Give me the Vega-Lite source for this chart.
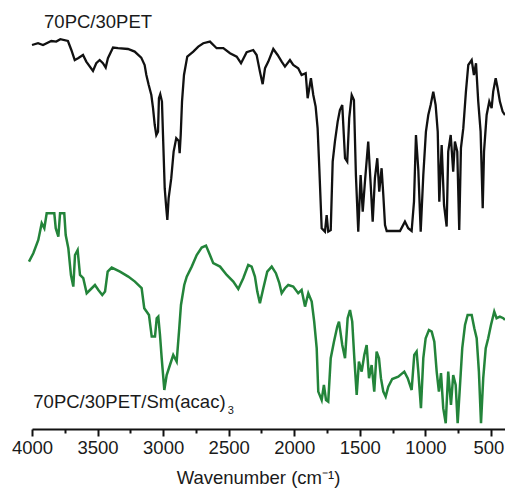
{
  "$schema": "https://vega.github.io/schema/vega-lite/v6.json",
  "width": 473,
  "height": 429,
  "autosize": {"type": "none"},
  "padding": {"left": 32, "top": 0, "right": 0, "bottom": 59},
  "background": "white",
  "config": {
    "view": {"stroke": null},
    "font": "Liberation Sans",
    "text": {"font": "Liberation Sans", "color": "#1a1a1a"}
  },
  "datasets": {
    "pet": [
      {"wavenumber": 4000, "transmittance": 93.5}, {"wavenumber": 3954, "transmittance": 94.4},
      {"wavenumber": 3916, "transmittance": 93.5}, {"wavenumber": 3853, "transmittance": 95.5},
      {"wavenumber": 3815, "transmittance": 95.2}, {"wavenumber": 3784, "transmittance": 96.4},
      {"wavenumber": 3726, "transmittance": 95.5}, {"wavenumber": 3700, "transmittance": 91},
      {"wavenumber": 3674, "transmittance": 86}, {"wavenumber": 3649, "transmittance": 86.9},
      {"wavenumber": 3611, "transmittance": 88.5}, {"wavenumber": 3586, "transmittance": 85.2},
      {"wavenumber": 3535, "transmittance": 80.5}, {"wavenumber": 3510, "transmittance": 84.4},
      {"wavenumber": 3484, "transmittance": 86}, {"wavenumber": 3459, "transmittance": 84.4},
      {"wavenumber": 3438, "transmittance": 82.2}, {"wavenumber": 3421, "transmittance": 86.9},
      {"wavenumber": 3382, "transmittance": 92.2}, {"wavenumber": 3344, "transmittance": 91.9},
      {"wavenumber": 3268, "transmittance": 91.5}, {"wavenumber": 3217, "transmittance": 90.2},
      {"wavenumber": 3167, "transmittance": 87.2}, {"wavenumber": 3141, "transmittance": 83.5},
      {"wavenumber": 3128, "transmittance": 78.5}, {"wavenumber": 3110, "transmittance": 73.5},
      {"wavenumber": 3090, "transmittance": 68.5}, {"wavenumber": 3077, "transmittance": 61.9},
      {"wavenumber": 3064, "transmittance": 53.5}, {"wavenumber": 3052, "transmittance": 48.5},
      {"wavenumber": 3039, "transmittance": 50.2}, {"wavenumber": 3032, "transmittance": 66.9},
      {"wavenumber": 3022, "transmittance": 68.9}, {"wavenumber": 3009, "transmittance": 65.2},
      {"wavenumber": 3001, "transmittance": 48.5}, {"wavenumber": 2988, "transmittance": 21.9},
      {"wavenumber": 2976, "transmittance": 11.9}, {"wavenumber": 2968, "transmittance": 6},
      {"wavenumber": 2958, "transmittance": 16.9}, {"wavenumber": 2938, "transmittance": 26.9},
      {"wavenumber": 2920, "transmittance": 40.2}, {"wavenumber": 2900, "transmittance": 46.9},
      {"wavenumber": 2881, "transmittance": 45.5}, {"wavenumber": 2874, "transmittance": 39.4},
      {"wavenumber": 2866, "transmittance": 48.5}, {"wavenumber": 2856, "transmittance": 65.2},
      {"wavenumber": 2841, "transmittance": 78.5}, {"wavenumber": 2816, "transmittance": 87.7},
      {"wavenumber": 2770, "transmittance": 90.2}, {"wavenumber": 2732, "transmittance": 92.7},
      {"wavenumber": 2694, "transmittance": 94.4}, {"wavenumber": 2643, "transmittance": 95.2},
      {"wavenumber": 2592, "transmittance": 91.9}, {"wavenumber": 2541, "transmittance": 91.9},
      {"wavenumber": 2490, "transmittance": 89.4}, {"wavenumber": 2439, "transmittance": 87.7},
      {"wavenumber": 2406, "transmittance": 84.4}, {"wavenumber": 2363, "transmittance": 89.9},
      {"wavenumber": 2313, "transmittance": 91}, {"wavenumber": 2287, "transmittance": 88.5},
      {"wavenumber": 2262, "transmittance": 80.2}, {"wavenumber": 2241, "transmittance": 73.9},
      {"wavenumber": 2223, "transmittance": 81.9}, {"wavenumber": 2198, "transmittance": 85.2},
      {"wavenumber": 2160, "transmittance": 91.5}, {"wavenumber": 2127, "transmittance": 88.5},
      {"wavenumber": 2096, "transmittance": 85.2}, {"wavenumber": 2071, "transmittance": 82.7},
      {"wavenumber": 2033, "transmittance": 86}, {"wavenumber": 2008, "transmittance": 83.5},
      {"wavenumber": 1970, "transmittance": 81.9}, {"wavenumber": 1944, "transmittance": 78.5},
      {"wavenumber": 1913, "transmittance": 79.4}, {"wavenumber": 1898, "transmittance": 66.9},
      {"wavenumber": 1873, "transmittance": 76.9}, {"wavenumber": 1855, "transmittance": 68.5},
      {"wavenumber": 1837, "transmittance": 62.7}, {"wavenumber": 1822, "transmittance": 51.9},
      {"wavenumber": 1809, "transmittance": 31.9}, {"wavenumber": 1791, "transmittance": 1.9},
      {"wavenumber": 1766, "transmittance": 0.2}, {"wavenumber": 1753, "transmittance": 8.5},
      {"wavenumber": 1741, "transmittance": 0.2}, {"wavenumber": 1722, "transmittance": 1},
      {"wavenumber": 1707, "transmittance": 35.2}, {"wavenumber": 1690, "transmittance": 45.2},
      {"wavenumber": 1669, "transmittance": 55.2}, {"wavenumber": 1652, "transmittance": 61},
      {"wavenumber": 1634, "transmittance": 63.5}, {"wavenumber": 1613, "transmittance": 36.9},
      {"wavenumber": 1596, "transmittance": 35.2}, {"wavenumber": 1581, "transmittance": 56.9},
      {"wavenumber": 1562, "transmittance": 68.5}, {"wavenumber": 1545, "transmittance": 66},
      {"wavenumber": 1530, "transmittance": 28.5}, {"wavenumber": 1512, "transmittance": 0.2},
      {"wavenumber": 1494, "transmittance": 28.5}, {"wavenumber": 1478, "transmittance": 10.2},
      {"wavenumber": 1461, "transmittance": 25.2}, {"wavenumber": 1436, "transmittance": 45.2},
      {"wavenumber": 1417, "transmittance": 23.5}, {"wavenumber": 1402, "transmittance": 5.2},
      {"wavenumber": 1385, "transmittance": 26.9}, {"wavenumber": 1367, "transmittance": 36.9},
      {"wavenumber": 1352, "transmittance": 20.2}, {"wavenumber": 1334, "transmittance": 31.9},
      {"wavenumber": 1321, "transmittance": 18.5}, {"wavenumber": 1308, "transmittance": 3.5},
      {"wavenumber": 1295, "transmittance": 0.5}, {"wavenumber": 1194, "transmittance": 0.5},
      {"wavenumber": 1156, "transmittance": 5.2}, {"wavenumber": 1131, "transmittance": 1.9},
      {"wavenumber": 1105, "transmittance": 0.5}, {"wavenumber": 1087, "transmittance": 15.2},
      {"wavenumber": 1072, "transmittance": 48.5}, {"wavenumber": 1054, "transmittance": 31},
      {"wavenumber": 1036, "transmittance": 0.2}, {"wavenumber": 1016, "transmittance": 28.5},
      {"wavenumber": 996, "transmittance": 50.2}, {"wavenumber": 978, "transmittance": 58.5},
      {"wavenumber": 960, "transmittance": 63.5}, {"wavenumber": 940, "transmittance": 70.2},
      {"wavenumber": 922, "transmittance": 63.5}, {"wavenumber": 906, "transmittance": 50.2},
      {"wavenumber": 894, "transmittance": 15.2}, {"wavenumber": 876, "transmittance": 43.5},
      {"wavenumber": 858, "transmittance": 13.5}, {"wavenumber": 838, "transmittance": 2.7},
      {"wavenumber": 826, "transmittance": 40.2}, {"wavenumber": 807, "transmittance": 48.5},
      {"wavenumber": 788, "transmittance": 30.2}, {"wavenumber": 775, "transmittance": 45.2},
      {"wavenumber": 757, "transmittance": 40.2}, {"wavenumber": 742, "transmittance": 1},
      {"wavenumber": 729, "transmittance": 41.9}, {"wavenumber": 711, "transmittance": 51.9},
      {"wavenumber": 691, "transmittance": 70.2}, {"wavenumber": 673, "transmittance": 83.5},
      {"wavenumber": 647, "transmittance": 86}, {"wavenumber": 630, "transmittance": 78.5},
      {"wavenumber": 614, "transmittance": 84.4}, {"wavenumber": 597, "transmittance": 65.2},
      {"wavenumber": 579, "transmittance": 50.2}, {"wavenumber": 563, "transmittance": 11.9},
      {"wavenumber": 553, "transmittance": 40.2}, {"wavenumber": 533, "transmittance": 58.5},
      {"wavenumber": 513, "transmittance": 65.2}, {"wavenumber": 495, "transmittance": 61.9},
      {"wavenumber": 483, "transmittance": 70.2}, {"wavenumber": 464, "transmittance": 76.9},
      {"wavenumber": 449, "transmittance": 71.9}, {"wavenumber": 432, "transmittance": 65.2},
      {"wavenumber": 411, "transmittance": 60.2}, {"wavenumber": 393, "transmittance": 58.5}
    ],
    "sm": [
      {"wavenumber": 4023, "transmittance": 81.7}, {"wavenumber": 3990, "transmittance": 85.9},
      {"wavenumber": 3952, "transmittance": 92.5}, {"wavenumber": 3926, "transmittance": 100.9},
      {"wavenumber": 3906, "transmittance": 98.4}, {"wavenumber": 3888, "transmittance": 105.9},
      {"wavenumber": 3830, "transmittance": 105.9}, {"wavenumber": 3819, "transmittance": 98.4},
      {"wavenumber": 3799, "transmittance": 94.2}, {"wavenumber": 3786, "transmittance": 105.9},
      {"wavenumber": 3754, "transmittance": 105.9}, {"wavenumber": 3743, "transmittance": 95},
      {"wavenumber": 3723, "transmittance": 88.4}, {"wavenumber": 3703, "transmittance": 75},
      {"wavenumber": 3685, "transmittance": 69.2}, {"wavenumber": 3672, "transmittance": 85},
      {"wavenumber": 3652, "transmittance": 87.5}, {"wavenumber": 3634, "transmittance": 75},
      {"wavenumber": 3609, "transmittance": 73.4}, {"wavenumber": 3583, "transmittance": 65.9},
      {"wavenumber": 3558, "transmittance": 67.5}, {"wavenumber": 3520, "transmittance": 70},
      {"wavenumber": 3494, "transmittance": 67.5}, {"wavenumber": 3464, "transmittance": 65},
      {"wavenumber": 3443, "transmittance": 66.7}, {"wavenumber": 3423, "transmittance": 76.7},
      {"wavenumber": 3392, "transmittance": 78.7}, {"wavenumber": 3329, "transmittance": 76.7},
      {"wavenumber": 3266, "transmittance": 74.2}, {"wavenumber": 3215, "transmittance": 71.7},
      {"wavenumber": 3164, "transmittance": 68.4}, {"wavenumber": 3144, "transmittance": 58.4},
      {"wavenumber": 3108, "transmittance": 55}, {"wavenumber": 3087, "transmittance": 44.2},
      {"wavenumber": 3062, "transmittance": 44.2}, {"wavenumber": 3049, "transmittance": 53.4},
      {"wavenumber": 3037, "transmittance": 54.2}, {"wavenumber": 3024, "transmittance": 45},
      {"wavenumber": 3011, "transmittance": 33.4}, {"wavenumber": 2991, "transmittance": 17.5},
      {"wavenumber": 2973, "transmittance": 25}, {"wavenumber": 2948, "transmittance": 30},
      {"wavenumber": 2923, "transmittance": 35}, {"wavenumber": 2897, "transmittance": 31.7},
      {"wavenumber": 2879, "transmittance": 46.7}, {"wavenumber": 2864, "transmittance": 60},
      {"wavenumber": 2839, "transmittance": 70}, {"wavenumber": 2820, "transmittance": 74.2},
      {"wavenumber": 2782, "transmittance": 79.2}, {"wavenumber": 2744, "transmittance": 85},
      {"wavenumber": 2706, "transmittance": 88.7}, {"wavenumber": 2673, "transmittance": 89.7},
      {"wavenumber": 2643, "transmittance": 85}, {"wavenumber": 2618, "transmittance": 80.9},
      {"wavenumber": 2566, "transmittance": 79.2}, {"wavenumber": 2515, "transmittance": 75},
      {"wavenumber": 2465, "transmittance": 71.7}, {"wavenumber": 2427, "transmittance": 68},
      {"wavenumber": 2389, "transmittance": 73.4}, {"wavenumber": 2351, "transmittance": 80},
      {"wavenumber": 2325, "transmittance": 79.2}, {"wavenumber": 2300, "transmittance": 74.2},
      {"wavenumber": 2282, "transmittance": 66.7}, {"wavenumber": 2262, "transmittance": 60.9},
      {"wavenumber": 2236, "transmittance": 68.4}, {"wavenumber": 2206, "transmittance": 76.7},
      {"wavenumber": 2172, "transmittance": 79.2}, {"wavenumber": 2140, "transmittance": 75.9},
      {"wavenumber": 2114, "transmittance": 70.9}, {"wavenumber": 2096, "transmittance": 65.9},
      {"wavenumber": 2071, "transmittance": 68.4}, {"wavenumber": 2046, "transmittance": 70},
      {"wavenumber": 2008, "transmittance": 69.2}, {"wavenumber": 1970, "transmittance": 65.9},
      {"wavenumber": 1944, "transmittance": 67.5}, {"wavenumber": 1918, "transmittance": 59.2},
      {"wavenumber": 1893, "transmittance": 65.9}, {"wavenumber": 1867, "transmittance": 61.7},
      {"wavenumber": 1848, "transmittance": 51.7}, {"wavenumber": 1829, "transmittance": 38.4},
      {"wavenumber": 1817, "transmittance": 16.7}, {"wavenumber": 1791, "transmittance": 12.5},
      {"wavenumber": 1774, "transmittance": 20}, {"wavenumber": 1758, "transmittance": 12.5},
      {"wavenumber": 1741, "transmittance": 11.7}, {"wavenumber": 1722, "transmittance": 33.4},
      {"wavenumber": 1697, "transmittance": 41.7}, {"wavenumber": 1672, "transmittance": 49.2},
      {"wavenumber": 1659, "transmittance": 51.7}, {"wavenumber": 1634, "transmittance": 40},
      {"wavenumber": 1613, "transmittance": 33.4}, {"wavenumber": 1593, "transmittance": 53.4},
      {"wavenumber": 1575, "transmittance": 57.5}, {"wavenumber": 1558, "transmittance": 51.7},
      {"wavenumber": 1542, "transmittance": 33.4}, {"wavenumber": 1524, "transmittance": 15},
      {"wavenumber": 1507, "transmittance": 31.7}, {"wavenumber": 1486, "transmittance": 26.7},
      {"wavenumber": 1466, "transmittance": 35}, {"wavenumber": 1448, "transmittance": 40},
      {"wavenumber": 1430, "transmittance": 23.4}, {"wavenumber": 1410, "transmittance": 30},
      {"wavenumber": 1390, "transmittance": 16.7}, {"wavenumber": 1372, "transmittance": 36.7},
      {"wavenumber": 1354, "transmittance": 33.4}, {"wavenumber": 1339, "transmittance": 23.4},
      {"wavenumber": 1321, "transmittance": 16.7}, {"wavenumber": 1303, "transmittance": 14.2},
      {"wavenumber": 1283, "transmittance": 19.2}, {"wavenumber": 1253, "transmittance": 23},
      {"wavenumber": 1207, "transmittance": 24.2}, {"wavenumber": 1161, "transmittance": 26.7},
      {"wavenumber": 1135, "transmittance": 23.4}, {"wavenumber": 1105, "transmittance": 17.5},
      {"wavenumber": 1085, "transmittance": 35}, {"wavenumber": 1067, "transmittance": 36.7},
      {"wavenumber": 1054, "transmittance": 26.7}, {"wavenumber": 1034, "transmittance": 8.4},
      {"wavenumber": 1016, "transmittance": 33.4}, {"wavenumber": 998, "transmittance": 43.4},
      {"wavenumber": 973, "transmittance": 47.5}, {"wavenumber": 952, "transmittance": 46.7},
      {"wavenumber": 932, "transmittance": 41.7}, {"wavenumber": 914, "transmittance": 26.7},
      {"wavenumber": 897, "transmittance": 16.7}, {"wavenumber": 881, "transmittance": 25.9},
      {"wavenumber": 864, "transmittance": 8.4}, {"wavenumber": 845, "transmittance": 0.9},
      {"wavenumber": 826, "transmittance": 26.7}, {"wavenumber": 805, "transmittance": 10},
      {"wavenumber": 788, "transmittance": 25}, {"wavenumber": 769, "transmittance": 20},
      {"wavenumber": 754, "transmittance": 0.9}, {"wavenumber": 736, "transmittance": 20},
      {"wavenumber": 719, "transmittance": 38.4}, {"wavenumber": 698, "transmittance": 50},
      {"wavenumber": 678, "transmittance": 55}, {"wavenumber": 647, "transmittance": 55},
      {"wavenumber": 627, "transmittance": 48.4}, {"wavenumber": 609, "transmittance": 43.4},
      {"wavenumber": 592, "transmittance": 26.7}, {"wavenumber": 576, "transmittance": 0.9},
      {"wavenumber": 559, "transmittance": 23.4}, {"wavenumber": 540, "transmittance": 38.4},
      {"wavenumber": 521, "transmittance": 43.4}, {"wavenumber": 500, "transmittance": 50},
      {"wavenumber": 475, "transmittance": 56.7}, {"wavenumber": 457, "transmittance": 53.4},
      {"wavenumber": 432, "transmittance": 54.2}, {"wavenumber": 406, "transmittance": 53.4},
      {"wavenumber": 393, "transmittance": 52.5}
    ],
    "petLabel": [{"label": "70PC/30PET", "wavenumber": 3908, "transmittance": 101.9}],
    "smLabel": [{"label": "70PC/30PET/Sm(acac)", "wavenumber": 3990, "transmittance": 8.4}],
    "smSub": [{"label": "3", "wavenumber": 2508, "transmittance": 5.5}]
  },
  "layer": [
    {
      "data": {"name": "pet"},
      "mark": {"type": "line", "stroke": "#111111", "strokeWidth": 2.3, "strokeJoin": "miter"},
      "encoding": {
        "x": {
          "field": "wavenumber", "type": "quantitative",
          "scale": {"domain": [4000, 393], "nice": false, "zero": false},
          "axis": {
            "orient": "bottom",
            "values": [4000, 3500, 3000, 2500, 2000, 1500, 1000, 500],
            "format": "d",
            "grid": false,
            "domainColor": "#111111", "domainWidth": 2,
            "tickColor": "#111111", "tickWidth": 2, "tickSize": 7,
            "labelFont": "Liberation Sans", "labelFontSize": 18.5, "labelColor": "#1a1a1a",
            "labelPadding": 2, "labelFlush": false, "labelOverlap": false,
            "labelOffset": {"condition": {"test": "datum.value === 500", "value": -2.5}, "value": 0},
            "title": "Wavenumber (cm⁻¹)",
            "titleFont": "Liberation Sans", "titleFontSize": 18.5, "titleFontWeight": "normal",
            "titleColor": "#1a1a1a",
            "titleAnchor": "start", "titleAlign": "center", "titleBaseline": "alphabetic",
            "titleX": 226, "titleY": 54
          }
        },
        "y": {
          "field": "transmittance", "type": "quantitative",
          "scale": {"domain": [-98.5, 116], "nice": false, "zero": false},
          "axis": null
        }
      }
    },
    {
      "data": {"name": "sm"},
      "mark": {"type": "line", "stroke": "#23843a", "strokeWidth": 2.5, "strokeJoin": "miter"},
      "encoding": {
        "x": {
          "field": "wavenumber", "type": "quantitative",
          "scale": {"domain": [4000, 393], "nice": false, "zero": false},
          "axis": {
            "orient": "bottom",
            "values": [3750, 3250, 2750, 2250, 1750, 1250, 750],
            "grid": false, "domain": false, "labels": false, "title": null,
            "tickColor": "#111111", "tickWidth": 2, "tickSize": 4
          }
        },
        "y": {
          "field": "transmittance", "type": "quantitative",
          "scale": {"domain": [-2, 212.5], "nice": false, "zero": false},
          "axis": null
        }
      }
    },
    {
      "data": {"name": "petLabel"},
      "mark": {"type": "text", "align": "left", "baseline": "alphabetic", "fontSize": 18.5},
      "encoding": {
        "x": {"field": "wavenumber", "type": "quantitative", "axis": null},
        "y": {
          "field": "transmittance", "type": "quantitative",
          "scale": {"domain": [-98.5, 116], "nice": false, "zero": false},
          "axis": null
        },
        "text": {"field": "label"}
      }
    },
    {
      "data": {"name": "smLabel"},
      "mark": {"type": "text", "align": "left", "baseline": "alphabetic", "fontSize": 18.5},
      "encoding": {
        "x": {"field": "wavenumber", "type": "quantitative", "axis": null},
        "y": {
          "field": "transmittance", "type": "quantitative",
          "scale": {"domain": [-2, 212.5], "nice": false, "zero": false},
          "axis": null
        },
        "text": {"field": "label"}
      }
    },
    {
      "data": {"name": "smSub"},
      "mark": {"type": "text", "align": "left", "baseline": "alphabetic", "fontSize": 11},
      "encoding": {
        "x": {"field": "wavenumber", "type": "quantitative", "axis": null},
        "y": {
          "field": "transmittance", "type": "quantitative",
          "scale": {"domain": [-2, 212.5], "nice": false, "zero": false},
          "axis": null
        },
        "text": {"field": "label"}
      }
    }
  ],
  "resolve": {
    "scale": {"y": "independent"},
    "axis": {"x": "independent", "y": "independent"}
  }
}
